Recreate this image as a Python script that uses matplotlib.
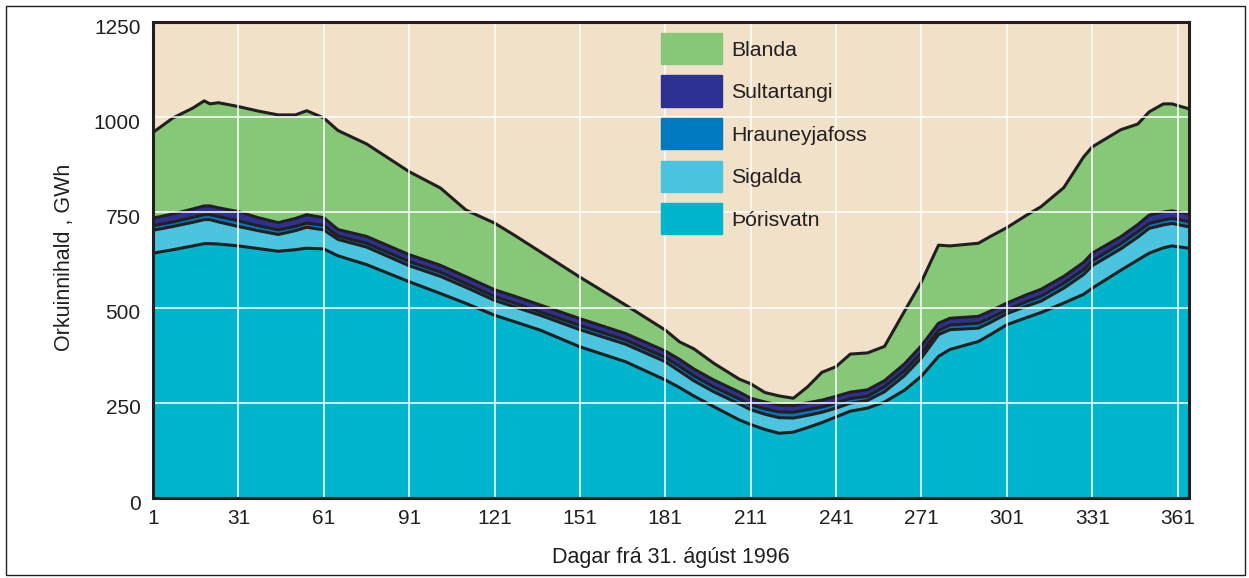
import matplotlib
matplotlib.use("Agg")
import matplotlib.pyplot as plt
import matplotlib.patches as mpatches
import matplotlib.transforms as mtransforms
import numpy as np

plt.rcParams['font.family'] = ['Liberation Sans', 'DejaVu Sans']

# day of the year (from 31 Aug 1996)
days = [1, 8, 15, 19, 21, 24, 31, 38, 45, 51, 55, 61, 66, 76, 91, 102, 111,
        121, 128, 137, 151, 167, 181, 186, 191, 198, 207, 211, 216, 221, 226,
        231, 236, 241, 246, 252, 258, 265, 271, 277, 281, 291, 295, 301, 308,
        313, 321, 328, 331, 341, 347, 351, 356, 359, 365]

# energy content per reservoir, GWh
thorisvatn = [643, 652, 662, 668, 668, 667, 662, 655, 648, 652, 656, 654, 636,
              613, 568, 537, 511, 480, 463, 441, 397, 358, 310, 290, 268, 240,
              205, 193, 180, 170, 173, 185, 198, 213, 228, 236, 252, 283, 320,
              372, 390, 411, 428, 455, 474, 487, 512, 535, 551, 598, 625, 643,
              657, 662, 656]
sigalda = [60, 61, 62, 63, 63, 58, 51, 47, 44, 50, 55, 50, 43, 46, 42, 45, 42,
           39, 39, 39, 45, 46, 48, 43, 40, 39, 42, 39, 40, 41, 37, 32, 27, 23,
           21, 20, 27, 38, 48, 57, 52, 35, 32, 29, 30, 30, 39, 52, 59, 56, 60,
           65, 60, 59, 56]
hrauneyjafoss = [12, 12, 13, 13, 13, 14, 15, 13, 12, 11, 11, 12, 9, 10, 11, 11,
                 10, 10, 10, 9, 11, 11, 11, 13, 13, 13, 13, 13, 14, 15, 15, 15,
                 14, 13, 12, 11, 13, 13, 13, 11, 12, 13, 12, 10, 12, 13, 13, 13,
                 13, 14, 14, 13, 13, 13, 14]
sultartangi = [20, 21, 22, 23, 23, 23, 24, 21, 19, 21, 22, 20, 17, 18, 18, 18,
               18, 18, 18, 18, 18, 17, 17, 18, 18, 18, 18, 17, 18, 18, 18, 18,
               18, 18, 17, 17, 16, 18, 19, 19, 18, 18, 18, 18, 18, 18, 18, 19,
               20, 18, 19, 22, 21, 20, 20]
blanda = [225, 252, 265, 276, 268, 276, 276, 280, 283, 272, 273, 262, 260, 243,
          218, 203, 175, 175, 160, 140, 109, 75, 55, 46, 53, 44, 34, 38, 25, 24,
          19, 42, 73, 78, 100, 97, 90, 138, 168, 205, 190, 192, 196, 198, 209,
          217, 233, 277, 279, 281, 264, 271, 284, 281, 276]

names = ['Þórisvatn', 'Sigalda', 'Hrauneyjafoss', 'Sultartangi', 'Blanda']
colors = ['#00b5cc', '#4bc4df', '#0079c1', '#2e3192', '#86c878']

fig = plt.figure(figsize=(12.49, 5.78), dpi=100)
ax = fig.add_axes([153 / 1249, 80 / 578, 1036 / 1249, 476 / 578])
ax.set_facecolor('#f1e1c9')

series = [thorisvatn, sigalda, hrauneyjafoss, sultartangi, blanda]
ax.stackplot(days, *series, colors=colors, edgecolor='none', zorder=1)

tops = np.cumsum(np.array(series), axis=0)
for t in tops:
    ax.plot(days, t, color='#231f20', lw=2.2, solid_joinstyle='round', zorder=2)

ax.set_xlim(1, 365)
ax.set_ylim(0, 1250)
ax.set_xticks(range(1, 366, 30))
ax.set_yticks([0, 250, 500, 750, 1000, 1250])
ax.grid(True, color='white', lw=1.1)
ax.set_axisbelow(False)
ax.tick_params(length=0, labelsize=15, colors='#231f20')
ax.tick_params(axis='x', pad=8)
ax.tick_params(axis='y', pad=9)
for s in ax.spines.values():
    s.set_linewidth(2.2)
    s.set_color('#231f20')
    s.set_zorder(4)

# y tick labels sit a little below their gridlines in the original
shift = mtransforms.ScaledTranslation(0, -4 / 100, fig.dpi_scale_trans)
for lab in ax.get_yticklabels():
    lab.set_transform(lab.get_transform() + shift)

ax.set_xlabel('Dagar frá 31. ágúst 1996', fontsize=15.5, color='#231f20')
ax.xaxis.set_label_coords(0.5, -0.124)
ax.xaxis.label.set_va('center')
ax.set_ylabel('Orkuinnihald , GWh', fontsize=15.5, color='#231f20')
ax.yaxis.set_label_coords(-0.085, 0.505)
ax.yaxis.label.set_va('center')

handles = [mpatches.Patch(color=c, label=n) for c, n in zip(colors, names)][::-1]
leg = ax.legend(handles=handles, loc='upper left',
                bbox_to_anchor=(661 / 1249, 1 - 33 / 578),
                bbox_transform=fig.transFigure, frameon=False,
                fontsize=15.3, handlelength=61 / 21.25, handleheight=1.9,
                handletextpad=0.42, labelspacing=0.52, borderpad=0,
                borderaxespad=0)
leg.set_zorder(5)
for t in leg.get_texts():
    t.set_color('#231f20')

fig.patches.append(mpatches.Rectangle((6 / 1249, 3 / 578), 1239 / 1249, 569 / 578,
                                      transform=fig.transFigure, fill=False,
                                      edgecolor='#231f20', lw=1.0))

fig.savefig('out.png', dpi=100)
